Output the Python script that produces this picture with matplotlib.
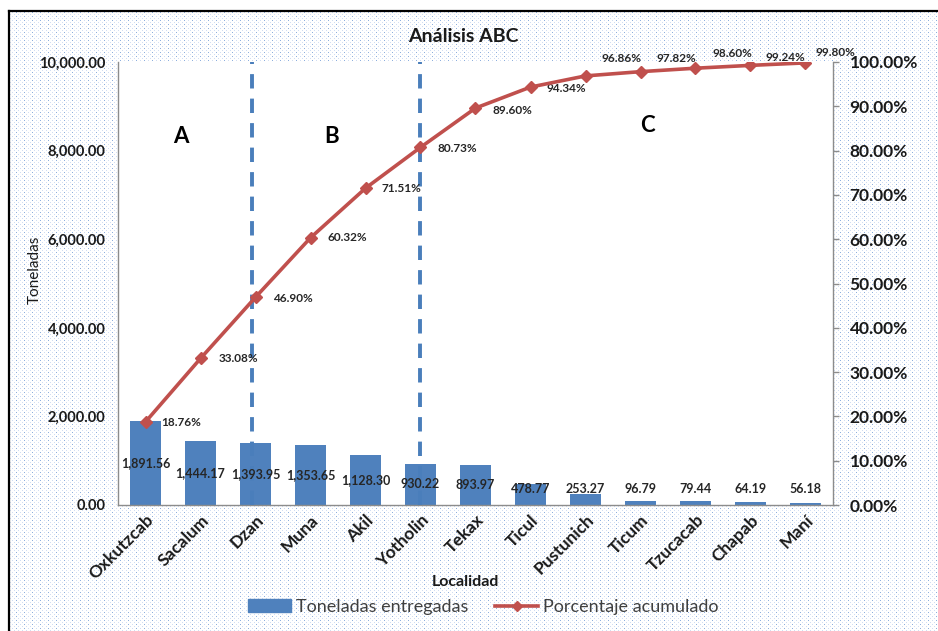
import numpy as np
import matplotlib
matplotlib.use("Agg")
import matplotlib.pyplot as plt
from matplotlib.lines import Line2D
from matplotlib.patches import Patch
from matplotlib.ticker import FuncFormatter, MultipleLocator

plt.rcParams['font.family'] = ['Lato', 'DejaVu Sans']

# ---- data ----
localidades = ["Oxkutzcab", "Sacalum", "Dzan", "Muna", "Akil", "Yotholin", "Tekax",
               "Ticul", "Pustunich", "Ticum", "Tzucacab", "Chapab", "Maní"]
toneladas = [1891.56, 1444.17, 1393.95, 1353.65, 1128.30, 930.22, 893.97,
             478.77, 253.27, 96.79, 79.44, 64.19, 56.18]
pct_acumulado = [18.76, 33.08, 46.90, 60.32, 71.51, 80.73, 89.60,
                 94.34, 96.86, 97.82, 98.60, 99.24, 99.80]
cortes_abc = [1.93, 4.99]          # class boundaries (category positions)
zonas = ["A", "B", "C"]

# label offsets for the cumulative-percentage labels (pixels)
pct_offsets = [(16, -1), (18, 0), (18, -1), (17, 0), (16, 0), (17, -1), (17, -2),
               (16, -1), (16, 17), (16, 13), (17, 15), (15, 8), (10, 10)]

W, H, DPI = 938, 631, 100
BLUE = "#4f81bd"
DASH = "#4a7ebb"
RED = "#c0504d"
TXT = "#1a1a1a"

fig = plt.figure(figsize=(W / DPI, H / DPI), dpi=DPI, facecolor="white")

# dotted chart-area fill
pat = np.ones((H, W, 3))
yy, xx = np.mgrid[0:H, 0:W]
dark = (yy % 4 == 0) & (xx % 8 == 0)
light = ((yy % 4 == 0) & (xx % 8 == 4)) | ((yy % 4 == 2) & (xx % 4 == 2))
pat[light] = np.array([0.82, 0.87, 0.95])
pat[dark] = np.array([0.56, 0.69, 0.87])
pat[:12, :] = 1.0
pat[:, :10] = 1.0
fig.figimage(pat, xo=0, yo=0, origin="upper", zorder=-1)

# frame lines of the chart area
fig.add_artist(Line2D([8.5 / W, 1.0], [1 - 10.5 / H] * 2, transform=fig.transFigure,
                      color="black", lw=1.6))
fig.add_artist(Line2D([8.5 / W] * 2, [0, 1 - 10.5 / H], transform=fig.transFigure,
                      color="black", lw=1.6))

left, right = 118 / W, 833 / W
bottom, top = 1 - 505 / H, 1 - 62 / H
ax = fig.add_axes([left, bottom, right - left, top - bottom])
ax.set_facecolor("white")
x = np.arange(len(localidades))

bars = ax.bar(x, toneladas, width=0.57, color=BLUE, zorder=2)
ax.set_xlim(-0.5, len(localidades) - 0.5)
ax.set_ylim(0, 10000)
ax.yaxis.set_major_locator(MultipleLocator(2000))
ax.yaxis.set_major_formatter(FuncFormatter(lambda v, p: f"{v:,.2f}"))
ax.tick_params(axis="y", length=0, pad=9, labelsize=10.5, labelcolor=TXT)
for lab in ax.get_yticklabels():
    lab.set_fontweight("bold")
ax.set_xticks(x)
ax.set_xticklabels(localidades, rotation=45, ha="right", rotation_mode="anchor",
                   fontsize=12.5, fontweight="bold", color=TXT)
ax.tick_params(axis="x", length=0, pad=5)
for s in ["top", "right"]:
    ax.spines[s].set_visible(False)
for s in ["left", "bottom"]:
    ax.spines[s].set_color("#8c8c8c")
    ax.spines[s].set_linewidth(1)

# value labels on the bars
for xi, v in zip(x, toneladas):
    ax.text(xi, max(v / 2, 360), f"{v:,.2f}", ha="center", va="center",
            fontsize=9, fontweight="bold", color="#262626", zorder=5)

# class boundaries
for c in cortes_abc:
    ax.plot([c, c], [0, 10000], color=DASH, lw=2.8, dashes=(3.7, 2.6),
            solid_capstyle="butt", dash_capstyle="butt", zorder=3)

# zone letters
for txt, (ax_x, ax_y) in zip(zonas, [(0.088, 0.831), (0.298, 0.831), (0.740, 0.856)]):
    ax.text(ax_x, ax_y, txt, transform=ax.transAxes, ha="center", va="center",
            fontsize=16, fontweight="bold", color="black")

ax.set_ylabel("Toneladas", fontsize=11, color=TXT)
ax.yaxis.set_label_coords(-(118 - 42) / (833 - 118), 0.53)
ax.set_xlabel("Localidad", fontsize=11.5, fontweight="bold", color=TXT)
ax.xaxis.set_label_coords((465 / W - left) / (right - left), -(582 - 505) / (505 - 62))
ax.xaxis.label.set_va("center")

# cumulative percentage on the secondary axis
ax2 = ax.twinx()
ax2.plot(x, pct_acumulado, color=RED, lw=2.6, marker="D", markersize=6,
         markerfacecolor=RED, markeredgecolor=RED, zorder=4)
ax2.set_ylim(0, 100)
ax2.yaxis.set_major_locator(MultipleLocator(10))
ax2.yaxis.set_major_formatter(FuncFormatter(lambda v, p: f"{v:.2f}%"))
ax2.tick_params(axis="y", length=4, width=1, color="#8c8c8c", pad=8,
                labelsize=12.5, labelcolor=TXT)
for lab in ax2.get_yticklabels():
    lab.set_fontweight("bold")
for s in ["top", "left", "bottom"]:
    ax2.spines[s].set_visible(False)
ax2.spines["right"].set_color("#8c8c8c")
ax2.spines["right"].set_linewidth(1)

for xi, p, (dx, dy) in zip(x, pct_acumulado, pct_offsets):
    ax2.annotate(f"{p:.2f}%", (xi, p), xytext=(dx, dy), textcoords="offset pixels",
                 ha="left", va="center", fontsize=8.5, fontweight="bold",
                 color="#262626", annotation_clip=False)

fig.text(463 / W, 1 - 37 / H, "Análisis ABC", ha="center", va="center",
         fontsize=14, fontweight="bold", color=TXT)

handles = [Patch(facecolor=BLUE, edgecolor=BLUE),
           Line2D([], [], color=RED, lw=2.6, marker="D", markersize=5)]
fig.legend(handles, ["Toneladas entregadas", "Porcentaje acumulado"],
           loc="center", bbox_to_anchor=(483 / W, 1 - 607 / H), ncol=2,
           frameon=False, fontsize=13, labelcolor="#404040",
           handlelength=2.4, handleheight=0.7, handletextpad=0.25, columnspacing=1.5)

fig.savefig("out.png", dpi=DPI)
